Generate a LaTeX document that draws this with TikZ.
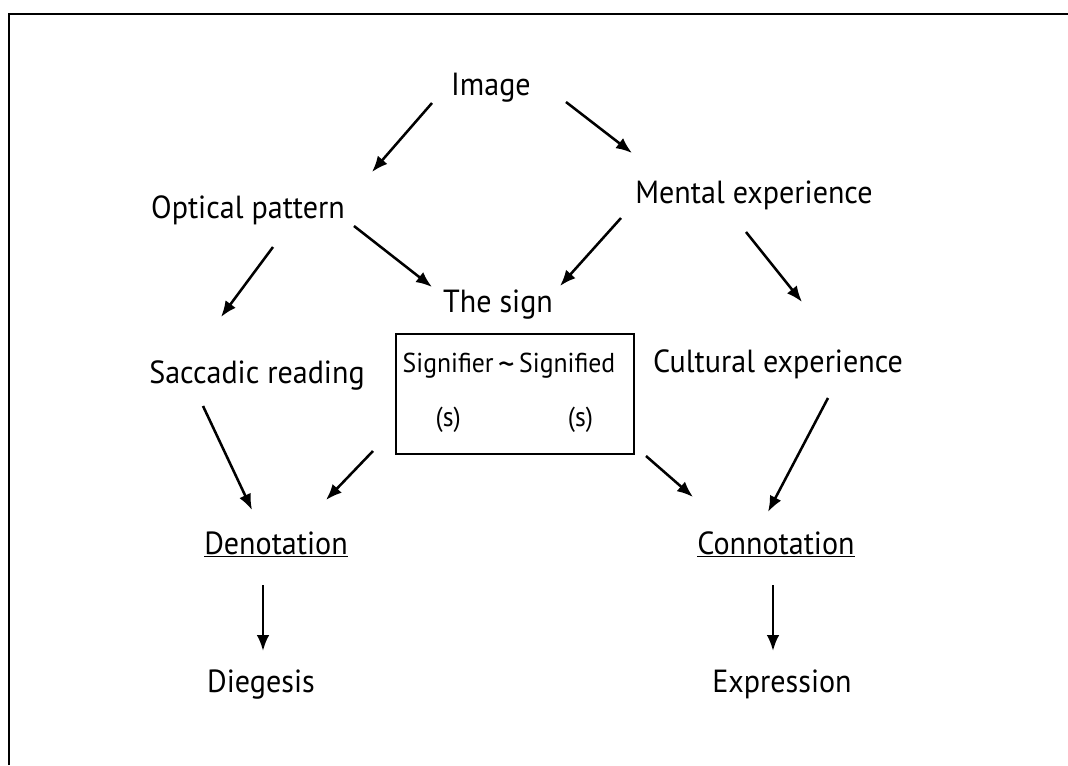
\documentclass[tikz,border=0pt]{standalone}
\usepackage{fontspec}
\setmainfont{PT Sans}[FakeStretch=0.94]
\usetikzlibrary{calc,arrows.meta}

\begin{document}
\begin{tikzpicture}[x=0.75pt,y=-0.75pt,
    lbl/.style={anchor=base,inner sep=0pt,font=\fontsize{24}{29}\selectfont},
    arr/.style={-{Latex[length=12pt,width=9.5pt]},line width=1.9pt},
    sbox/.style={draw,line width=1.5pt,minimum width=178pt,minimum height=90pt,inner sep=0pt}]
\useasboundingbox (0,0) rectangle (1068,765);
\draw[line width=1.5pt] (9,765) -- (9,14) -- (1068,14);
\node[lbl] (img) at (491,95) {Image};
\node[lbl] (opt) at (248,218) {Optical pattern};
\node[lbl] (ment) at (754,203) {Mental experience};
\node[lbl] (sign) at (498,312) {The sign};
\node[lbl] (sacc) at (257,383) {Saccadic reading};
\node[lbl] (cult) at (778,372) {Cultural experience};
\node[sbox] (box) at (515,394) {};
\node[lbl,font=\fontsize{20.5}{24}\selectfont] (sig) at (509,372) {\setlength{\tabcolsep}{0pt}\begin{tabular}[t]{c@{}c@{}c}Signifier & \,\raisebox{-3pt}{\fontsize{26}{26}\selectfont\textasciitilde}\, & Signified\\[17pt] (s) & & \hspace{20pt}(s)\end{tabular}};
\node[lbl] (deno) at (276,554) {\underline{Denotation}};
\node[lbl] (conn) at (776,554) {\underline{Connotation}};
\node[lbl] (dieg) at (261,692) {Diegesis};
\node[lbl] (expr) at (782,692) {Expression};
\draw[arr] ($(img.base)+(-59,8)$) -- ($(opt.base)+(124,-46)$);
\draw[arr] ($(img.base)+(75,7)$) -- ($(ment.base)+(-122,-50)$);
\draw[arr] ($(opt.base)+(106,8)$) -- ($(sign.base)+(-66,-25)$);
\draw[arr] ($(opt.base)+(25,29)$) -- ($(sacc.base)+(-36,-66)$);
\draw[arr] ($(ment.base)+(-133,15)$) -- ($(sign.base)+(62,-26)$);
\draw[arr] ($(ment.base)+(-8,29)$) -- ($(cult.base)+(24,-70)$);
\draw[arr] ($(sacc.base)+(-54,23)$) -- ($(deno.base)+(-24,-44)$);
\draw[arr] ($(box)+(-142,57)$) -- ($(deno.base)+(50,-54)$);
\draw[arr] ($(box)+(131,62)$) -- ($(conn.base)+(-83,-57)$);
\draw[arr] ($(cult.base)+(50,26)$) -- ($(conn.base)+(-8,-42)$);
\draw[arr] ($(deno.base)+(-13,31)$) -- ($(dieg.base)+(2,-41)$);
\draw[arr] ($(conn.base)+(-3,31)$) -- ($(expr.base)+(-9,-41)$);
\end{tikzpicture}
\end{document}
